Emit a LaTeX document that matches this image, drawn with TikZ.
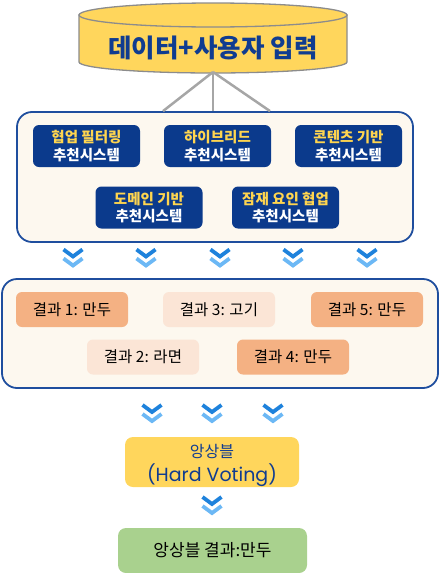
\documentclass[tikz,border=0pt]{standalone}
\usepackage{fontspec}
\setmainfont{Noto Sans CJK KR}
\newfontfamily\latinround{Poppins}
\usepackage{tikz}
\usetikzlibrary{shapes.geometric, arrows.meta, positioning, calc}
\definecolor{cGold}{HTML}{FFD65C}
\definecolor{cGrey}{HTML}{A6A6A6}
\definecolor{cRim}{HTML}{8C8C8C}
\definecolor{cInk}{HTML}{103C90}
\definecolor{cBlue}{HTML}{1F4E9E}
\definecolor{cCream}{HTML}{FDF8EF}
\definecolor{cNavy}{HTML}{0B3A8C}
\definecolor{cYellow}{HTML}{FFD54F}
\definecolor{cOrange}{HTML}{F4B183}
\definecolor{cPeach}{HTML}{FBE5D6}
\definecolor{cGreen}{HTML}{A9D18E}
\definecolor{cChevA}{HTML}{1E82DC}
\definecolor{cChevB}{HTML}{6CB8F5}
\tikzset{
	panel/.style ={rectangle, rounded corners=15pt, draw=cBlue, line width=1.8pt, fill=cCream},
	recsys/.style={rectangle, rounded corners=6pt, fill=cNavy, text=white, minimum width=107pt, minimum height=42pt, inner sep=0pt, align=center, font=\fontsize{14.5}{17.5}\selectfont\bfseries},
	vote/.style  ={rectangle, rounded corners=6pt, minimum width=112pt, minimum height=35pt, inner sep=0pt, font=\fontsize{15.5}{17}\selectfont},
	link/.style  ={draw=cGrey, line width=2.5pt},
	% double chevron between the stages
	dchev/.pic={
		\draw[cChevA, line width=3.8pt] (-9.5,9) -- (0,2) -- (9.5,9);
		\draw[cChevB, line width=3.8pt] (-9.5,0) -- (0,-7) -- (9.5,0);
	},
}
\begin{document}
\begin{tikzpicture}[x=1pt, y=1pt]
	\useasboundingbox (0,0) rectangle (441,-573);
	% data source
	\filldraw[fill=cGold, draw=cRim, line width=1.3pt] (79,-15) -- (79,-62) arc[start angle=180, end angle=360, x radius=134, y radius=11] -- (347,-15) -- cycle;
	\filldraw[fill=cGold, draw=cRim, line width=1.3pt] (213,-15) ellipse[x radius=134, y radius=12];
	\node[text=cInk, font=\fontsize{25.5}{28}\selectfont\bfseries] (db) at (213,-48) {데이터+사용자 입력};
	\coordinate (dbbot) at (213,-72);
	% recommenders
	\node[panel, minimum width=396pt, minimum height=130pt] (recpanel) at (215,-177) {};
	\draw[link] (dbbot) -- ([xshift=-52pt]recpanel.north);
	\draw[link] (dbbot) -- ([xshift=-2pt]recpanel.north);
	\draw[link] (dbbot) -- ([xshift=55pt]recpanel.north);
	\node[recsys] (cf)     at (86.5,-146)  {{\color{cYellow}협업 필터링}\\추천시스템};
	\node[recsys] (hybrid) at (217.5,-146) {{\color{cYellow}하이브리드}\\추천시스템};
	\node[recsys] (cb)     at (348.5,-146) {{\color{cYellow}콘텐츠 기반}\\추천시스템};
	\node[recsys] (domain) at (149,-207.5) {{\color{cYellow}도메인 기반}\\추천시스템};
	\node[recsys] (latent) at (285.5,-207.5) {{\color{cYellow}잠재 요인 협업}\\추천시스템};
	\foreach \cx in {73,146,220,293,367}
		\pic at (\cx,-258.5) {dchev};
	% votes
	\node[panel, minimum width=436pt, minimum height=109pt] (votepanel) at (220,-333.5) {};
	\node[vote, fill=cOrange] (res1) at (72,-309.5)  {결과 1: 만두};
	\node[vote, fill=cPeach]  (res3) at (219,-309.5) {결과 3: 고기};
	\node[vote, fill=cOrange] (res5) at (367,-309.5) {결과 5: 만두};
	\node[vote, fill=cPeach]  (res2) at (143,-357)   {결과 2: 라면};
	\node[vote, fill=cOrange] (res4) at (293,-357)   {결과 4: 만두};
	\foreach \cx in {152,212,273}
		\pic at (\cx,-414) {dchev};
	% ensemble
	\node[rectangle, rounded corners=8pt, fill=cGold, text=cInk, minimum width=174pt, minimum height=50pt, inner sep=0pt, font=\fontsize{16}{22}\selectfont] (ens) at (212,-462)
		{\raisebox{-3pt}[\height][\depth]{\begin{tabular}{@{}c@{}}앙상블\\{\latinround\fontsize{19}{22}\selectfont (Hard Voting)}\end{tabular}}};
	\pic at (212,-506) {dchev};
	\node[rectangle, rounded corners=8pt, fill=cGreen, minimum width=189pt, minimum height=45pt, font=\fontsize{17}{19}\selectfont] (final) at (212.5,-550.5) {앙상블 결과:만두};
\end{tikzpicture}
\end{document}
